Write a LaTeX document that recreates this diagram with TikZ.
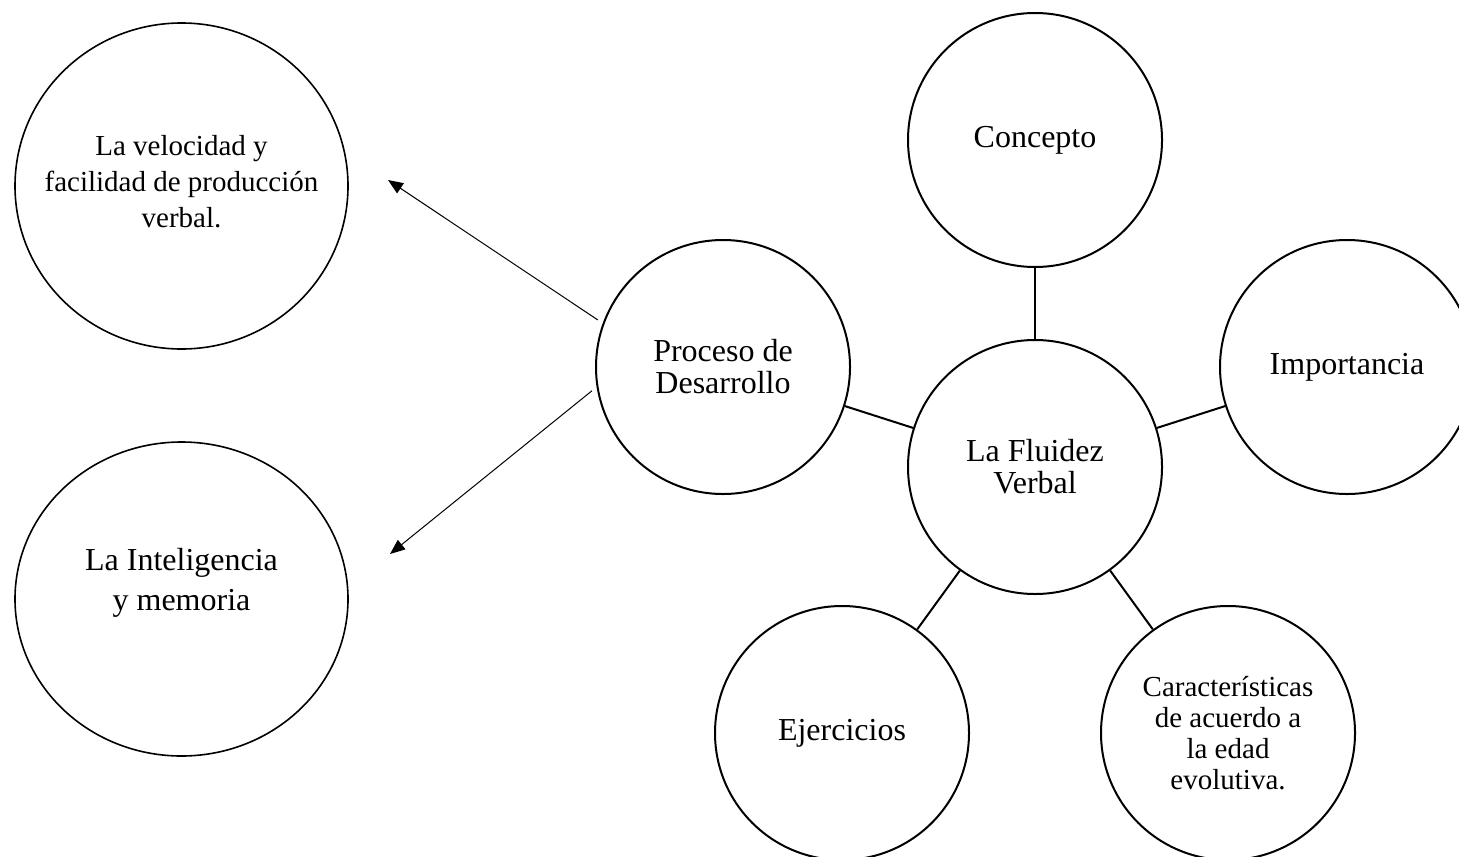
\documentclass[tikz,border=0pt]{standalone}
\usepackage{fontspec}
\setmainfont{Liberation Serif}
\usetikzlibrary{arrows.meta, shapes.geometric}
\tikzset{
	bubble/.style={circle, draw, line width=1pt, minimum size=127pt, inner sep=0pt, align=center, font=\fontsize{16}{16}\selectfont}, % the circles round the centre
	bigbubble/.style={ellipse, draw, line width=0.8pt, minimum width=166.5pt, inner sep=0pt}, % the two ellipses on the left
	note/.style={align=center}, % text set inside an ellipse
	link/.style={line width=1pt}, % plain connectors
	pointer/.style={-{Triangle[length=7.5pt, width=6pt]}, line width=0.5pt, shorten <=3pt}, % thin arrows
}

\begin{document}
\begin{tikzpicture}[x=0.5pt, y=-0.5pt]
	\useasboundingbox (0,0) rectangle (1459,856);
	% Define bubbles
	\node[bubble] (fluidez) at (1035,467) {La Fluidez\\Verbal};
	\node[bubble] (concepto) at (1035,140) {Concepto};
	\node[bubble] (importancia) at (1347,367) {Importancia};
	\node[bubble] (ejercicios) at (842,733) {Ejercicios};
	\node[bubble, font=\fontsize{14.5}{15.5}\selectfont] (caract) at (1228,733) {Características\\de acuerdo a\\la edad\\evolutiva.};
	\node[bubble] (proceso) at (723,367) {Proceso de\\Desarrollo};
	\node[bigbubble, minimum height=163pt, label={[note, font=\fontsize{14.5}{18}\selectfont, yshift=2pt]center:{La velocidad y\\facilidad de producción\\verbal.}}] (velocidad) at (181.5,186) {};
	\node[bigbubble, minimum height=157pt, label={[note, font=\fontsize{16}{20}\selectfont, yshift=8pt]center:{La Inteligencia\\y memoria}}] (inteligencia) at (181.5,599) {};
	\coordinate (velTip) at (388,180);
	\coordinate (intTip) at (390,554);

	% Connections
	\path[link]
	(fluidez) edge (concepto)
	(fluidez) edge (importancia)
	(fluidez) edge (caract)
	(fluidez) edge (ejercicios)
	(fluidez) edge (proceso);
	\path[pointer]
	(proceso.160) edge (velTip)
	(proceso.189) edge (intTip);
\end{tikzpicture}
\end{document}
